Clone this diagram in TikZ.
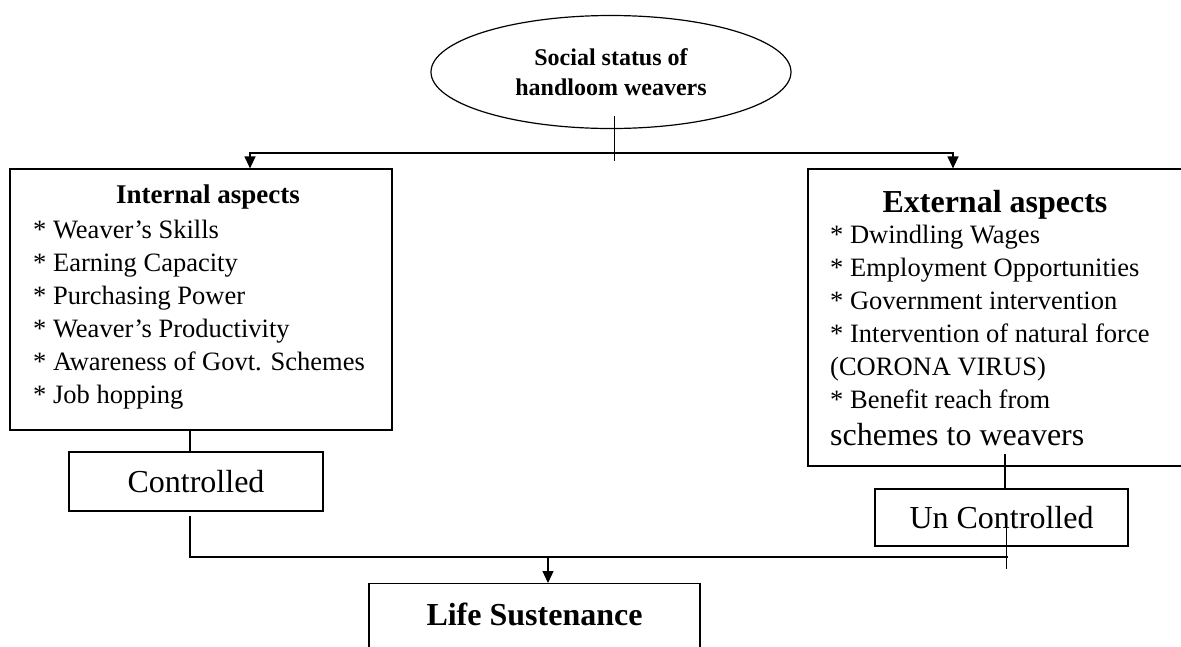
\documentclass[tikz,border=0pt]{standalone}
\usepackage{fontspec}
\setmainfont{Liberation Serif}
\usetikzlibrary{shapes.geometric, arrows.meta, positioning}
\tikzstyle{oval} = [ellipse, draw=black, line width=1.2pt, minimum width=360pt, minimum height=113pt, align=center, font=\bfseries\fontsize{24}{30}\selectfont]
\tikzstyle{aspect} = [rectangle, draw=black, line width=1.2pt, minimum width=382pt]
\tikzstyle{heading} = [anchor=base, inner sep=0pt, font=\bfseries\fontsize{27}{32}\selectfont]
\tikzstyle{entry} = [anchor=base west, inner sep=0pt, font=\fontsize{26.5}{32}\selectfont]
\tikzstyle{tagbox} = [rectangle, draw=black, line width=1.2pt, font=\fontsize{32}{38}\selectfont]
\tikzstyle{line} = [line width=1.2pt]
\tikzstyle{arrow} = [line width=1.2pt, -{Triangle[length=12pt,width=11pt]}]

\begin{document}
\begin{tikzpicture}[x=1pt, y=-1pt]
\useasboundingbox (0,0) rectangle (1181,646);

% Nodes
\node[oval] (status) at (611,72) {Social status of\\handloom weavers};
\node[aspect, minimum height=261pt] (internal) at (201,299.5) {};
\node[aspect, minimum height=297pt] (external) at (999,317.5) {};
\node[heading] (intitle) at (208,203) {Internal aspects};
\node[heading, font=\bfseries\fontsize{32}{38}\selectfont] (extitle) at (995,212) {External aspects};
\foreach \txt [count=\i] in {* Weaver’s Skills, * Earning Capacity, * Purchasing Power, * Weaver’s Productivity, * Awareness of Govt. Schemes, * Job hopping}
  \node[entry] (in-\i) at (33,205+33*\i) {\txt};
\foreach \txt [count=\i] in {* Dwindling Wages, * Employment Opportunities, * Government intervention, * Intervention of natural force, (CORONA VIRUS), * Benefit reach from}
  \node[entry] (ex-\i) at (830,210+33*\i) {\txt};
\node[entry, font=\fontsize{32}{38}\selectfont] (ex-7) at (830,445) {schemes to weavers};
\node[tagbox, minimum width=254pt, minimum height=59pt] (ctrl) at (196,481.5) {Controlled};
\node[tagbox, minimum width=253pt, minimum height=57pt] (unctrl) at (1001.5,517.5) {Un Controlled};
\node[tagbox, font=\bfseries\fontsize{32}{38}\selectfont, minimum width=331pt, text height=30pt, text depth=60pt, inner ysep=12pt, anchor=north] (life) at (534.5,583) {Life Sustenance};
\coordinate (split) at (614.5,153);
\coordinate (merge) at (1008,557);

% Arrows
\draw[line] ([xshift=3.5pt,yshift=13pt]status.south) -- ++(0,45);
\draw[arrow] (split) -| ([xshift=49pt]internal.north);
\draw[arrow] (split) -| ([xshift=-46pt]external.north);
\draw[line] ([xshift=-6pt]ctrl.north) -- ([xshift=-6pt]ctrl.north |- internal.south);
\draw[line] ([xshift=-6pt,yshift=-4pt]ctrl.south) |- (merge);
\draw[arrow] ([xshift=13.5pt]life.north |- merge) -- ([xshift=13.5pt]life.north);
\draw[line] ([xshift=3.5pt]unctrl.north) -- ++(0,-34);
\draw[line] ([xshift=5pt,yshift=19pt]unctrl.south) -- ++(0,41);

\end{tikzpicture}
\end{document}
